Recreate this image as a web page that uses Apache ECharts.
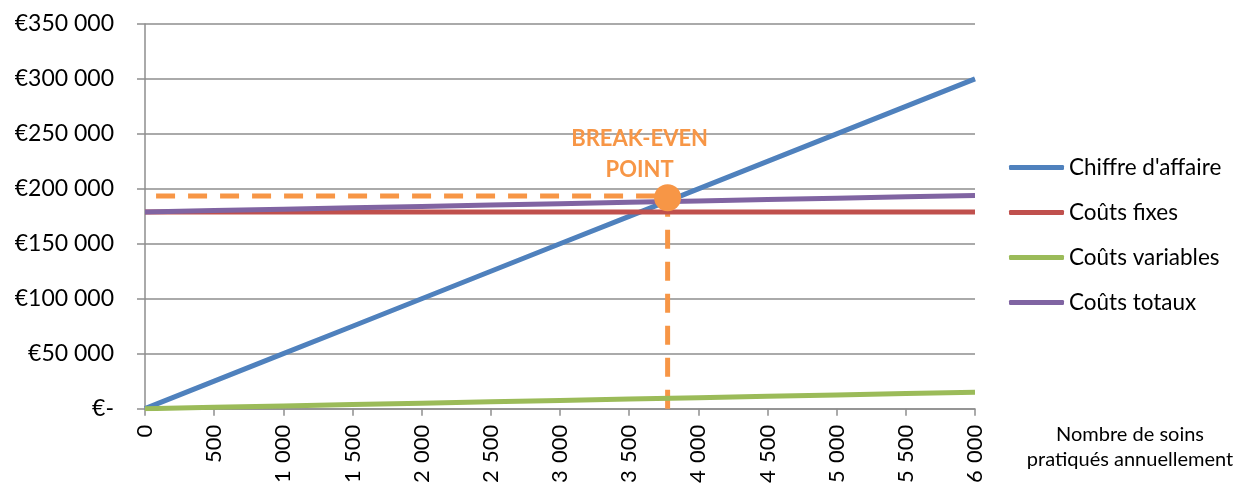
<!DOCTYPE html>
<html>
<head>
<meta charset="utf-8">
<script src="https://cdn.jsdelivr.net/npm/echarts@6/dist/echarts.min.js"></script>
<style>html,body{margin:0;padding:0;background:#fff}#c{width:1236px;height:486px}</style>
</head>
<body>
<div id="c"></div>
<script>
const units = [0, 500, 1000, 1500, 2000, 2500, 3000, 3500, 4000, 4500, 5000, 5500, 6000];
const chiffreAffaire = [0, 25000, 50000, 75000, 100000, 125000, 150000, 175000, 200000, 225000, 250000, 275000, 300000];
const coutsFixes = [179000, 179000, 179000, 179000, 179000, 179000, 179000, 179000, 179000, 179000, 179000, 179000, 179000];
const coutsVariables = [0, 1250, 2500, 3750, 5000, 6250, 7500, 8750, 10000, 11250, 12500, 13750, 15000];
const coutsTotaux = [179000, 180250, 181500, 182750, 184000, 185250, 186500, 187750, 189000, 190250, 191500, 192750, 194000];
const seriesNames = ["Chiffre d'affaire", "Coûts fixes", "Coûts variables", "Coûts totaux"];
const breakEven = [3778, 192000];
const breakEvenHLine = [[80, 193500], [3700, 193500]];
const breakEvenVLine = [[3778, 192000], [3778, 0]];
const axisTitle = ["Nombre de soins", "pratiqués annuellement"];

const FONT = 'Lato, "Open Sans", sans-serif';
const colors = ['#4F81BD', '#C0504D', '#9BBB59', '#8064A2'];
const orange = '#F79646';
const gridGray = '#8e8e8e';

function fmtThousands(v, sep) {
  return String(v).replace(/\B(?=(\d{3})+(?!\d))/g, sep || ' ');
}
function pairs(ys) { return units.map((x, i) => [x, ys[i]]); }

const chart = echarts.init(document.getElementById('c'), null, {renderer: 'canvas'});
const lineSeries = [chiffreAffaire, coutsFixes, coutsVariables, coutsTotaux].map((ys, i) => ({
  name: seriesNames[i],
  type: 'line',
  data: pairs(ys),
  showSymbol: false,
  symbol: 'none',
  lineStyle: {color: colors[i], width: 5},
  itemStyle: {color: colors[i]},
  z: 3,
  silent: true
}));

chart.setOption({
  animation: false,
  color: colors,
  grid: {left: 145, right: 261, top: 24, bottom: 77, containLabel: false},
  legend: {
    data: seriesNames,
    orient: 'vertical',
    left: 1004,
    top: 149,
    icon: 'roundRect',
    itemWidth: 55,
    itemHeight: 5,
    itemGap: 18,
    textStyle: {fontFamily: FONT, fontSize: 22.5, color: '#000', lineHeight: 27}
  },
  xAxis: {
    type: 'value',
    min: 0, max: 6000, interval: 500,
    axisLine: {show: true, onZero: false, lineStyle: {color: gridGray, width: 1.5}},
    axisTick: {show: true, length: 7, inside: false, lineStyle: {color: gridGray, width: 1.5}},
    splitLine: {show: false},
    axisLabel: {
      rotate: 90, margin: 16,
      fontFamily: FONT, fontSize: 22, color: '#000',
      formatter: v => fmtThousands(v, '\u2004'),
      showMaxLabel: true, showMinLabel: true
    }
  },
  yAxis: {
    type: 'value',
    min: 0, max: 350000, interval: 50000,
    axisLine: {show: true, lineStyle: {color: gridGray, width: 1.5}},
    axisTick: {show: true, length: 8, inside: false, lineStyle: {color: gridGray, width: 1.5}},
    splitLine: {show: true, lineStyle: {color: gridGray, width: 1.5}},
    axisLabel: {
      margin: 31,
      fontFamily: FONT, fontSize: 23, color: '#000',
      formatter: v => v === 0 ? '€-' : '€' + fmtThousands(v)
    }
  },
  graphic: [
    {type: 'text', x: 1130, y: 422, style: {text: axisTitle[0] + '\n' + axisTitle[1], font: '20px ' + FONT, fill: '#000', align: 'center', verticalAlign: 'top', lineHeight: 25}}
  ],
  series: [
    {
      type: 'line', name: 'hline', data: breakEvenHLine, showSymbol: false, symbol: 'none',
      lineStyle: {color: orange, width: 5, type: [19, 13]}, z: 2, silent: true
    },
    {
      type: 'line', name: 'vline', data: breakEvenVLine, showSymbol: false, symbol: 'none',
      lineStyle: {color: orange, width: 5, type: [19, 13]}, z: 2, silent: true
    },
    ...lineSeries,
    {
      type: 'scatter', name: 'break-even', data: [breakEven], symbolSize: 27,
      itemStyle: {color: orange, opacity: 1}, z: 5, silent: true,
      label: {
        show: true, position: 'top', distance: 3, offset: [-28, 5],
        formatter: 'BREAK-EVEN\nPOINT', align: 'center',
        fontFamily: FONT, fontSize: 22, fontWeight: 'bold', color: orange, lineHeight: 31.5
      }
    }
  ]
});
</script>
</body>
</html>
